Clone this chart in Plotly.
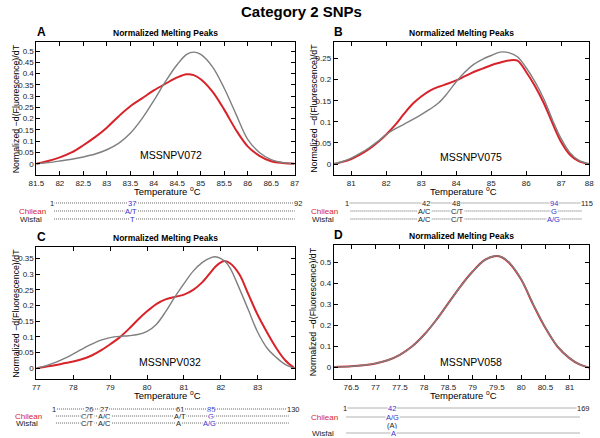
import plotly.graph_objects as go

# ---------------- data ----------------
# Panel A  (MSSNPV072)
tA = [81.5, 81.75, 82.0, 82.25, 82.5, 82.75, 83.0, 83.25, 83.5, 83.75, 84.0, 84.25,
      84.5, 84.7, 84.85, 85.0, 85.25, 85.5, 85.75, 86.0, 86.25, 86.5, 86.75, 87.0]
wisfal_A = [0.0, 0.005, 0.012, 0.02, 0.03, 0.043, 0.062, 0.09, 0.135, 0.2, 0.28, 0.365,
            0.44, 0.485, 0.495, 0.485, 0.43, 0.335, 0.22, 0.108, 0.05, 0.018, 0.005, 0.0]
chilean_A = [0.0, 0.012, 0.028, 0.05, 0.082, 0.118, 0.16, 0.21, 0.255, 0.29, 0.325, 0.355,
             0.383, 0.397, 0.393, 0.375, 0.32, 0.24, 0.15, 0.077, 0.035, 0.011, 0.003, 0.0]

# Panel B  (MSSNPV075)
tB = [80.5, 80.75, 81.0, 81.25, 81.5, 81.75, 82.0, 82.25, 82.5, 82.75, 83.0, 83.25, 83.5,
      83.75, 84.0, 84.25, 84.5, 84.75, 85.0, 85.25, 85.5, 85.75, 86.0, 86.25, 86.5, 86.75,
      87.0, 87.25, 87.5, 87.8]
wisfal_B = [0.0, 0.006, 0.014, 0.025, 0.038, 0.053, 0.07, 0.083, 0.094, 0.105, 0.117, 0.13,
            0.145, 0.168, 0.195, 0.218, 0.236, 0.248, 0.257, 0.265, 0.264, 0.254, 0.228,
            0.195, 0.155, 0.105, 0.06, 0.027, 0.009, 0.0]
chilean_B = [0.0, 0.005, 0.012, 0.022, 0.035, 0.051, 0.07, 0.092, 0.118, 0.142, 0.16, 0.174,
             0.183, 0.19, 0.198, 0.208, 0.218, 0.226, 0.234, 0.24, 0.245, 0.245, 0.218,
             0.185, 0.145, 0.097, 0.052, 0.022, 0.007, 0.0]

# Panel C  (MSSNPV032)
tC = [77.0, 77.25, 77.5, 77.75, 78.0, 78.25, 78.5, 78.75, 79.0, 79.25, 79.5, 79.75, 80.0,
      80.25, 80.5, 80.75, 81.0, 81.25, 81.5, 81.75, 81.85, 82.0, 82.1, 82.25, 82.5, 82.75,
      83.0, 83.25, 83.5, 83.75, 84.0]
wisfal_C = [0.0, 0.008, 0.018, 0.031, 0.046, 0.062, 0.077, 0.09, 0.098, 0.102, 0.104, 0.108,
            0.118, 0.14, 0.18, 0.227, 0.27, 0.31, 0.338, 0.354, 0.356, 0.35, 0.342, 0.32,
            0.255, 0.185, 0.115, 0.065, 0.035, 0.012, 0.0]
chilean_C = [0.0, 0.005, 0.01, 0.016, 0.022, 0.03, 0.041, 0.057, 0.077, 0.098, 0.125, 0.155,
             0.182, 0.205, 0.22, 0.228, 0.235, 0.25, 0.275, 0.31, 0.324, 0.338, 0.342, 0.335,
             0.3, 0.235, 0.17, 0.115, 0.065, 0.025, 0.0]

# Panel D  (MSSNPV058)
tD = [76.14, 76.5, 76.75, 77.0, 77.25, 77.5, 77.75, 78.0, 78.25, 78.5, 78.75, 79.0, 79.25,
      79.45, 79.6, 79.75, 80.0, 80.25, 80.5, 80.75, 81.0, 81.2, 81.4]
wisfal_D = [0.003, 0.006, 0.011, 0.02, 0.035, 0.06, 0.1, 0.155, 0.225, 0.305, 0.385, 0.455,
            0.51, 0.53, 0.525, 0.5, 0.42, 0.3, 0.19, 0.1, 0.045, 0.015, 0.0]
chilean_D = [0.003, 0.006, 0.011, 0.02, 0.035, 0.061, 0.1, 0.156, 0.226, 0.306, 0.386, 0.456,
             0.511, 0.529, 0.524, 0.498, 0.418, 0.298, 0.188, 0.099, 0.044, 0.015, 0.0]

marker_names = ["MSSNPV072", "MSSNPV075", "MSSNPV032", "MSSNPV058"]
panel_letters = ["A", "B", "C", "D"]

# x-axis ticks
xticks_A = [81.5, 82, 82.5, 83, 83.5, 84, 84.5, 85, 85.5, 86, 86.5, 87]
xticks_B = [81, 82, 83, 84, 85, 86, 87, 87.8]
xticklabels_B = ["81", "82", "83", "84", "85", "86", "87", "88"]
xticks_C = [77, 78, 79, 80, 81, 82, 83]
xticks_D = [76.5, 77, 77.5, 78, 78.5, 79, 79.5, 80, 80.5, 81]

# sequence alignment annotations (text content)
seqA_ruler = ["1", "37", "92"]
seqA_chilean = ["A/T"]
seqA_wisfal = ["T"]
seqB_ruler = ["1", "42", "48", "94", "115"]
seqB_chilean = ["A/C", "C/T", "G"]
seqB_wisfal = ["A/C", "C/T", "A/G"]
seqC_ruler = ["1", "26", "27", "61", "85", "130"]
seqC_chilean = ["C/T", "A/C", "A/T", "G"]
seqC_wisfal = ["C/T", "A/C", "A", "A/G"]
seqD_ruler = ["1", "42", "169"]
seqD_chilean = ["A/G"]
seqD_extra = ["(A)"]
seqD_wisfal = ["A"]

# ---------------- styling / layout ----------------
W, H = 600, 438
RED = "#d8232a"
GREY = "#7f7f7f"
BLUE = "#3333cc"
FONT = "Liberation Sans, Arial, sans-serif"


def px(x):
    return x / W


def py(y):
    return 1 - y / H


# plot boxes in pixels: (left, right, top, bottom)
boxes = [(29, 293, 42, 175), (333, 594, 42, 175), (29, 293, 247, 379), (333, 594, 245, 379)]
xranges = [[81.5, 87.0], [80.5, 87.8], [77.0, 84.0], [76.14, 81.4]]
yranges = [[-0.05, 0.54], [-0.026, 0.289], [-0.034, 0.387], [-0.054, 0.582]]
ydticks = [0.05, 0.05, 0.05, 0.1]
ymaxtick = [0.5, 0.25, 0.35, 0.5]

fig = go.Figure()

series = [(tA, wisfal_A, chilean_A), (tB, wisfal_B, chilean_B),
          (tC, wisfal_C, chilean_C), (tD, wisfal_D, chilean_D)]

for i, (t, g, r) in enumerate(series):
    suffix = "" if i == 0 else str(i + 1)
    fig.add_trace(go.Scatter(x=t, y=r, mode="lines", line=dict(color=RED, width=2, shape="spline", smoothing=1.0),
                             xaxis="x" + suffix, yaxis="y" + suffix, showlegend=False, hoverinfo="skip"))
    fig.add_trace(go.Scatter(x=t, y=g, mode="lines", line=dict(color=GREY, width=1.4, shape="spline", smoothing=1.0),
                             xaxis="x" + suffix, yaxis="y" + suffix, showlegend=False, hoverinfo="skip"))

xtick_sets = [(xticks_A, [str(v) for v in xticks_A]), (xticks_B, xticklabels_B),
              (xticks_C, [str(v) for v in xticks_C]), (xticks_D, [str(v) for v in xticks_D])]

axis_common = dict(showline=True, linecolor="black", linewidth=1, mirror="ticks", ticks="inside",
                   ticklen=4, tickcolor="black", showgrid=False, zeroline=False,
                   tickfont=dict(family=FONT, size=8, color="#222"))

layout = dict(width=W, height=H, margin=dict(l=0, r=0, t=0, b=0), paper_bgcolor="white",
              plot_bgcolor="white", showlegend=False)

annotations = []
shapes = []


def ann(x, y, text, size, color="black", bg=None, angle=0):
    d = dict(x=px(x), y=py(y), xref="paper", yref="paper", text=text, showarrow=False,
             xanchor="center", yanchor="middle", textangle=angle,
             font=dict(family=FONT, size=size, color=color))
    if bg:
        d["bgcolor"] = bg
        d["borderpad"] = 0
    annotations.append(d)


for i, (l, r, t, b) in enumerate(boxes):
    suffix = "" if i == 0 else str(i + 1)
    tv, tt = xtick_sets[i]
    layout["xaxis" + suffix] = dict(axis_common, domain=[px(l), px(r)], range=xranges[i],
                                    tickvals=tv, ticktext=tt, anchor="y" + suffix)
    nt = int(round(ymaxtick[i] / ydticks[i]))
    yv = [round(k * ydticks[i], 3) for k in range(nt + 1)]
    layout["yaxis" + suffix] = dict(axis_common, domain=[py(b), py(t)], range=yranges[i],
                                    tickvals=yv, ticktext=[("%g" % v) for v in yv], anchor="x" + suffix)
    cx = (l + r) / 2
    ann(l + 5, t - 10, "<b>%s</b>" % panel_letters[i], 12)
    ann(cx, t - 9, "<b>Normalized Melting Peaks</b>", 8.5)
    ann(cx + 2, b + 16, "Temperature <sup>o</sup>C", 9.5)
    ann(l - 21, (t + b) / 2, "Normalized \u2212d(Fluorescence)/dT", 8.8, angle=-90)

# marker name labels inside plots
name_pos = [(0.523, 0.15), (0.536, 0.135), (0.519, 0.129), (0.536, 0.129)]
for i, nm in enumerate(marker_names):
    suffix = "" if i == 0 else str(i + 1)
    annotations.append(dict(x=name_pos[i][0], y=name_pos[i][1], xref="x%s domain" % suffix,
                            yref="y%s domain" % suffix, text=nm, showarrow=False,
                            xanchor="center", yanchor="middle",
                            font=dict(family=FONT, size=10.5, color="black")))

# title
ann(300, 11, "<b>Category 2 SNPs</b>", 15)


def seq_row(y, x0, x1, labels, xs, colors):
    shapes.append(dict(type="line", xref="paper", yref="paper", x0=px(x0), x1=px(x1), y0=py(y), y1=py(y),
                       line=dict(color="#555", width=0.9, dash="1px,1px")))
    for lab, x, c in zip(labels, xs, colors):
        ann(x, y, lab, 7.5, color=c, bg="white")


K = "#222"
# Panel A alignment
seq_row(203, 47, 292, seqA_ruler, [45, 127, 296], [K, BLUE, K])
ann(25, 211, "Chilean", 8, RED)
seq_row(211, 47, 293, seqA_chilean, [126], [BLUE])
ann(23, 219, "Wisfal", 8, K)
seq_row(219, 47, 293, seqA_wisfal, [127], [BLUE])

# Panel B alignment
seq_row(203, 349, 588, seqB_ruler, [347, 427, 458, 558, 592], [K, K, K, BLUE, K])
ann(324, 211, "Chilean", 8, RED)
seq_row(211, 350, 587, seqB_chilean, [426, 459, 558], [K, K, BLUE])
ann(322, 219, "Wisfal", 8, K)
seq_row(219, 350, 587, seqB_wisfal, [426, 459, 558], [K, K, BLUE])

# Panel C alignment
seq_row(409, 48, 288, seqC_ruler, [47, 83, 98, 176, 207, 292], [K, K, K, K, BLUE, K])
ann(21, 416, "Chilean", 8, RED)
seq_row(416, 49, 287, seqC_chilean, [81, 99, 176, 207], [K, K, K, BLUE])
ann(19, 423, "Wisfal", 8, K)
seq_row(423, 49, 287, seqC_wisfal, [81, 99, 174, 206], [K, K, K, BLUE])

# Panel D alignment
seq_row(408, 345, 584, seqD_ruler, [344, 393, 588], [K, BLUE, K])
ann(324, 417, "Chilean", 8, RED)
seq_row(417, 346, 585, seqD_chilean, [393], [BLUE])
ann(393, 425, seqD_extra[0], 7.5, K)
ann(322, 433, "Wisfal", 8, K)
seq_row(433, 346, 585, seqD_wisfal, [394], [BLUE])

layout["annotations"] = annotations
layout["shapes"] = shapes
fig.update_layout(**layout)
fig.write_html("out.html", config={"displayModeBar": False},
               post_script="document.body.style.margin='0px';document.body.style.overflow='hidden';")
